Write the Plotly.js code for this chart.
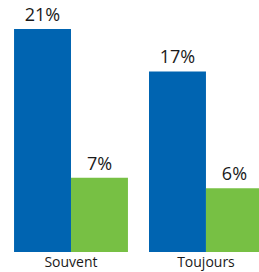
<!DOCTYPE html>
<html>
<head>
<meta charset="utf-8">
<script src="https://cdn.plot.ly/plotly-3.0.1.min.js"></script>
<style>html,body{margin:0;padding:0;background:#fff;}#chart{width:259px;height:272px;}</style>
</head>
<body>
<div id="chart"></div>
<script>
const categories = ["Souvent", "Toujours"];
const seriesA = [21, 17];
const seriesB = [7, 6];
const labelsA = ["21%", "17%"];
const labelsB = ["7%", "6%"];

const font = "'Open Sans', 'Noto Sans', sans-serif";
const traces = [
  {type: "bar", x: categories, y: seriesA, text: labelsA, textposition: "outside",
   marker: {color: "#0064b1"}, textfont: {size: 18, color: "#1a1a1a", family: font},
   cliponaxis: false, hoverinfo: "none"},
  {type: "bar", x: categories, y: seriesB, text: labelsB, textposition: "outside",
   marker: {color: "#77c044"}, textfont: {size: 18, color: "#1a1a1a", family: font},
   cliponaxis: false, hoverinfo: "none"}
];
const layout = {
  width: 259, height: 272,
  margin: {l: 0, r: 0, t: 0, b: 20, pad: 0},
  paper_bgcolor: "#fff", plot_bgcolor: "#fff",
  barmode: "group", bargap: 0.156, bargroupgap: 0,
  showlegend: false,
  font: {family: font, color: "#1a1a1a"},
  xaxis: {range: [-0.526, 1.393], showgrid: false, zeroline: false, showline: false,
          ticks: "", tickfont: {size: 14, family: font, color: "#1a1a1a"}, fixedrange: true},
  yaxis: {range: [0, 23.73], visible: false, showgrid: false, zeroline: false, fixedrange: true}
};
Plotly.newPlot("chart", traces, layout, {displayModeBar: false, staticPlot: true});
</script>
</body>
</html>
